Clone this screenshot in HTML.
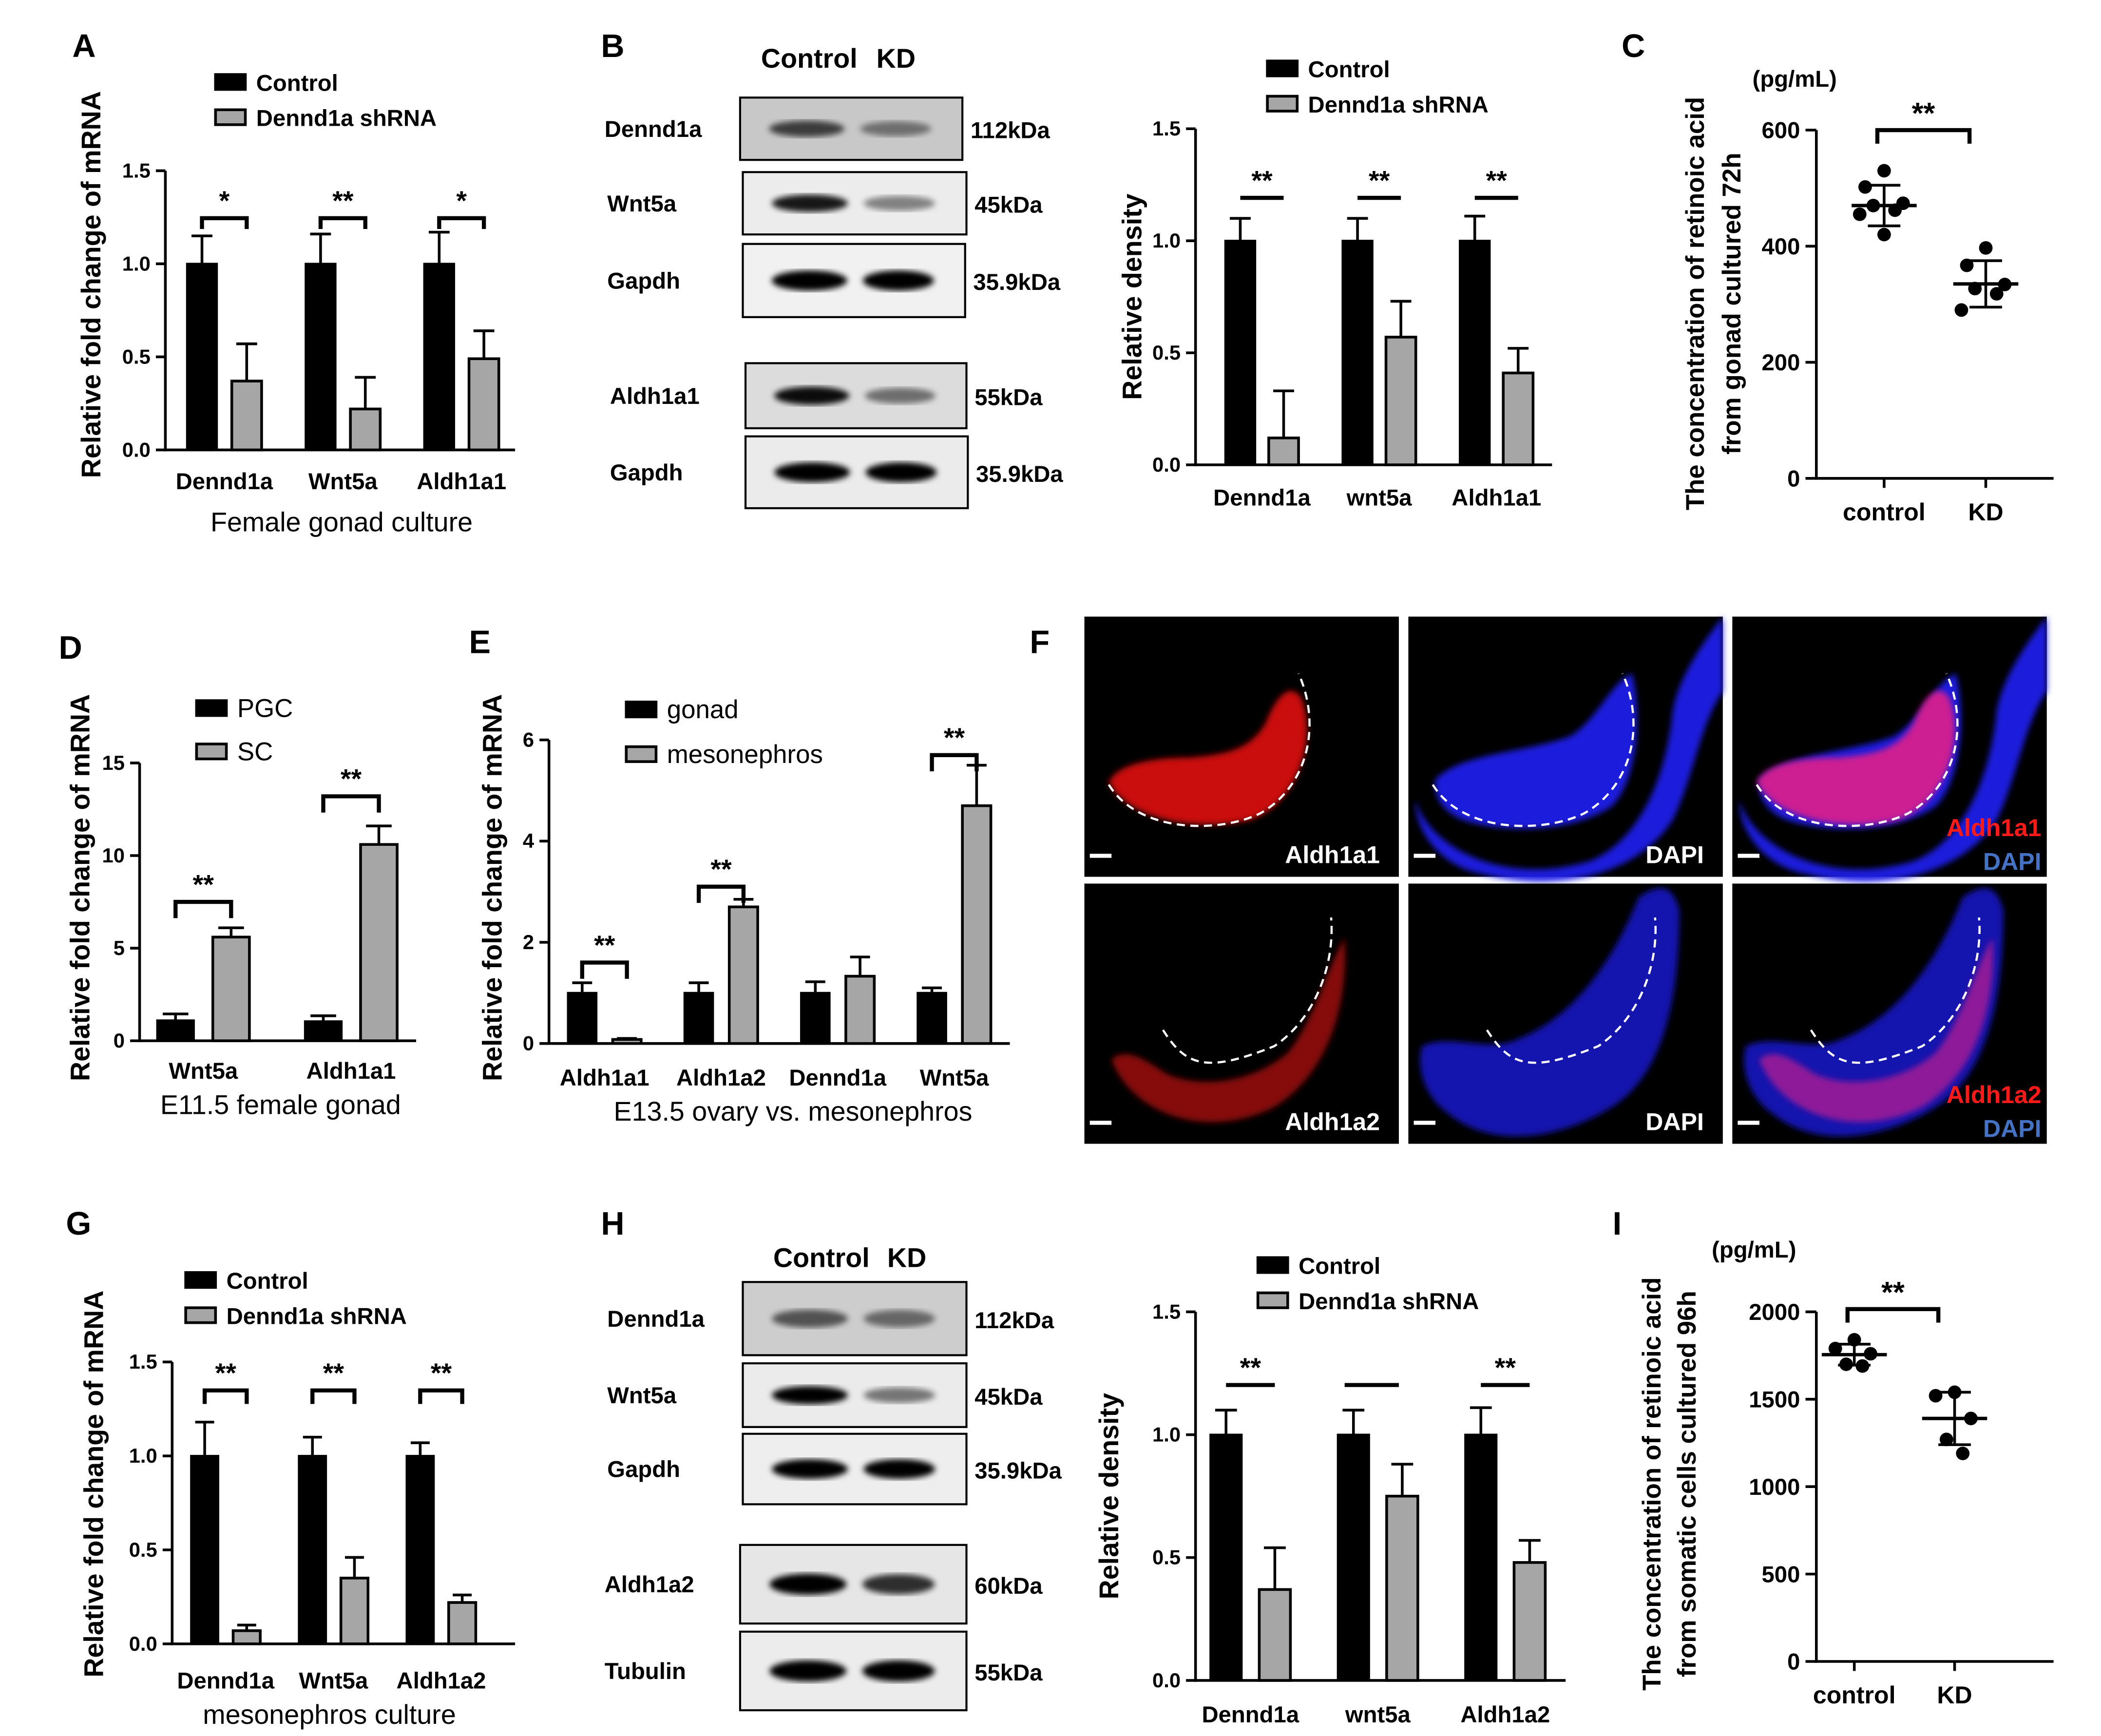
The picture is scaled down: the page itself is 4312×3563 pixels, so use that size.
<!DOCTYPE html>
<html><head><meta charset="utf-8"><style>
html,body{margin:0;padding:0;background:#fff;}
svg{display:block;font-family:"Liberation Sans",sans-serif;}
</style></head><body>
<svg id="fig" xmlns="http://www.w3.org/2000/svg" width="4312" height="3563" viewBox="0 0 1550 1281" preserveAspectRatio="none">
<defs>
<filter id="blur1"><feGaussianBlur stdDeviation="2.2"/></filter>
</defs>
</svg>
<script>
// ---------- data ----------
const catsA = ["Dennd1a","Wnt5a","Aldh1a1"];
const ctrlA = [1.0,1.0,1.0];
const ctrlErrA = [0.15,0.16,0.17];
const shA = [0.37,0.22,0.49];
const shErrA = [0.2,0.17,0.15];
const sigA = ["*","**","*"];
const ticksA = [0,0.5,1.0,1.5];

const catsB = ["Dennd1a","wnt5a","Aldh1a1"];
const ctrlB = [1.0,1.0,1.0];
const ctrlErrB = [0.1,0.1,0.11];
const shB = [0.12,0.57,0.41];
const shErrB = [0.21,0.16,0.11];
const sigB = ["**","**","**"];
const ticksB = [0,0.5,1.0,1.5];

const catsD = ["Wnt5a","Aldh1a1"];
const pgcD = [1.1,1.05];
const pgcErrD = [0.35,0.3];
const scD = [5.6,10.6];
const scErrD = [0.5,1.0];
const sigD = ["**","**"];
const ticksD = [0,5,10,15];

const catsE = ["Aldh1a1","Aldh1a2","Dennd1a","Wnt5a"];
const gonE = [1.0,1.0,1.0,1.0];
const gonErrE = [0.2,0.2,0.22,0.1];
const mesE = [0.08,2.7,1.33,4.7];
const mesErrE = [0.02,0.15,0.38,0.8];
const sigE = ["**","**","","**"];
const ticksE = [0,2,4,6];

const catsG = ["Dennd1a","Wnt5a","Aldh1a2"];
const ctrlG = [1.0,1.0,1.0];
const ctrlErrG = [0.18,0.1,0.07];
const shG = [0.07,0.35,0.22];
const shErrG = [0.03,0.11,0.04];
const sigG = ["**","**","**"];
const ticksG = [0,0.5,1.0,1.5];

const catsH = ["Dennd1a","wnt5a","Aldh1a2"];
const ctrlH = [1.0,1.0,1.0];
const ctrlErrH = [0.1,0.1,0.11];
const shH = [0.37,0.75,0.48];
const shErrH = [0.17,0.13,0.09];
const sigH = ["**","","**"];
const ticksH = [0,0.5,1.0,1.5];

const groupsC = ["control","KD"];
const ptsCctrl = [530,502,474,470,462,455,420];
const ptsCkd = [397,367,334,327,318,290];
const meanC = [470,335];
const sdC = [35,40];
const ticksC = [0,200,400,600];

const groupsI = ["control","KD"];
const ptsIctrl = [1840,1790,1760,1700,1690];
const ptsIkd = [1540,1520,1390,1270,1190];
const meanI = [1755,1390];
const sdI = [60,150];
const ticksI = [0,500,1000,1500,2000];

// ---------- helpers ----------
const NS = "http://www.w3.org/2000/svg";
const svg = document.getElementById("fig");
function mk(parent, tag, attrs, name, txt){
  const el = document.createElementNS(NS, tag);
  for (const k in attrs) el.setAttribute(k, attrs[k]);
  
  
  if (txt !== undefined) el.textContent = txt;
  parent.appendChild(el);
  return el;
}
function grp(name){ return mk(svg,"g",{},name); }
function text(p,x,y,s,size,opts,name){
  opts = opts||{};
  return mk(p,"text",Object.assign({x:x,y:y,"font-size":size,"font-weight":opts.w||"bold","text-anchor":opts.a||"middle",fill:opts.f||"#000"},opts.extra||{}),name,s);
}
function line(p,x1,y1,x2,y2,w,name){ return mk(p,"line",{x1:x1,y1:y1,x2:x2,y2:y2,stroke:"#000","stroke-width":w||2},name); }

[["A",62,42],["B",452,42],["C",1205,42],["D",52,486],["E",354,482],["F",767,482],["G",58,911],["H",452,911],["I",1193,911]].forEach(l=>{
  const g = grp("panel-label-"+l[0].toLowerCase());
  text(g,l[1],l[2],l[0],24,{},"panel-letter");
});

// ---------- bar chart ----------
function barChart(c){
  const g = grp(c.name);
  const max = c.ticks[c.ticks.length-1];
  const yS = v => c.y0 - (v/max)*(c.y0-c.yTop);
  line(g,c.x0,c.yTop,c.x0,c.y0+1,2,"y-axis");
  line(g,c.x0-1,c.y0,c.xEnd,c.y0,2,"x-axis");
  c.ticks.forEach(t=>{
    const y = yS(t);
    line(g,c.x0-7,y,c.x0,y,2,"y-tick");
    text(g,c.x0-11,y+5,c.tickFmt(t),c.tickSize||15,{a:"end"},"y-tick-label");
  });
  c.cats.forEach((cat,i)=>{
    const bx = c.first + i*c.step;
    const gx = bx + c.off;
    const v1 = c.s1[i], v2 = c.s2[i];
    const e1 = c.e1[i], e2 = c.e2[i];
    line(g,bx+c.bw/2,yS(v1),bx+c.bw/2,yS(v1+e1),2,"error-bar");
    line(g,bx+c.bw/2-c.bw*0.35,yS(v1+e1),bx+c.bw/2+c.bw*0.35,yS(v1+e1),2,"error-cap");
    mk(g,"rect",{x:bx,y:yS(v1),width:c.bw,height:c.y0-yS(v1),fill:"#000",stroke:"#000","stroke-width":1.5},"bar-"+c.s1name+"-"+cat.toLowerCase());
    line(g,gx+c.bw/2,yS(v2),gx+c.bw/2,yS(v2+e2),2,"error-bar");
    line(g,gx+c.bw/2-c.bw*0.35,yS(v2+e2),gx+c.bw/2+c.bw*0.35,yS(v2+e2),2,"error-cap");
    mk(g,"rect",{x:gx,y:yS(v2),width:c.bw,height:c.y0-yS(v2),fill:"#a6a6a6",stroke:"#000","stroke-width":2},"bar-"+c.s2name+"-"+cat.toLowerCase());
    text(g,(bx+gx+c.bw)/2,c.labY,cat,c.catSize||17,{},"x-category-label");
    if (c.sig[i] && !c.noSig){
      const by = c.sigY;
      const bx1 = bx+c.bw/2, bx2 = gx+c.bw/2;
      mk(g,"polyline",{points: c.drop ? `${bx1},${by+c.drop} ${bx1},${by} ${bx2},${by} ${bx2},${by+c.drop}` : `${bx1},${by} ${bx2},${by}`,fill:"none",stroke:"#000","stroke-width":3},"significance-bracket");
      text(g,(bx1+bx2)/2,by-6,c.sig[i],20,{},"significance-stars");
    }
  });
  const cy = c.titleY!==undefined ? c.titleY : (c.y0+c.yTop)/2;
  text(g,c.titleX,cy,c.ytitle,c.titleSize||20,{extra:{transform:`rotate(-90 ${c.titleX} ${cy})`}},"y-axis-title");
  if (c.xtitle) text(g,c.xtitleX,c.xtitleY,c.xtitle,20,{w:"normal"},"x-axis-title");
  c.legend.forEach((L,j)=>{
    mk(g,"rect",{x:L[0],y:L[1]-6,width:22,height:11,fill:j?"#a6a6a6":"#000",stroke:"#000","stroke-width":2},"legend-swatch");
    text(g,L[0]+30,L[1]+6,L[2],c.legSize||17,{a:"start",w:c.legW||"bold"},"legend-entry");
  });
}
const f1 = t=>t.toFixed(1), f0 = t=>String(t);

barChart({name:"chart-a",x0:122,y0:332,yTop:126,xEnd:380,ticks:ticksA,tickFmt:f1,cats:catsA,s1:ctrlA,e1:ctrlErrA,s2:shA,e2:shErrA,sig:sigA,s1name:"control",s2name:"shrna",
  first:138,step:87.5,bw:22,off:33,labY:361,sigY:161,drop:8,titleX:74,titleY:210,ytitle:"Relative fold change of mRNA",xtitle:"Female gonad culture",xtitleX:252,xtitleY:392,
  legend:[[159,61,"Control"],[159,87,"Dennd1a shRNA"]]});
barChart({name:"chart-b",x0:882,y0:343,yTop:95,xEnd:1145,ticks:ticksB,tickFmt:f1,cats:catsB,s1:ctrlB,e1:ctrlErrB,s2:shB,e2:shErrB,sig:sigB,s1name:"control",s2name:"shrna",
  first:904,step:86.5,bw:22,off:32,labY:373,sigY:146,drop:0,titleX:842,ytitle:"Relative density",
  legend:[[935,51,"Control"],[935,77,"Dennd1a shRNA"]]});
barChart({name:"chart-d",x0:103,y0:768,yTop:563,xEnd:307,ticks:ticksD,tickFmt:f0,cats:catsD,s1:pgcD,e1:pgcErrD,s2:scD,e2:scErrD,sig:sigD,s1name:"pgc",s2name:"sc",noSig:true,
  first:116,step:109,bw:27,off:41,labY:796,sigY:0,drop:12,titleX:66,titleY:655,ytitle:"Relative fold change of mRNA",xtitle:"E11.5 female gonad",xtitleX:207,xtitleY:822,
  legend:[[145,523,"PGC"],[145,555,"SC"]],legW:"normal",legSize:19});
barChart({name:"chart-e",x0:405,y0:770,yTop:546,xEnd:745,ticks:ticksE,tickFmt:f0,cats:catsE,s1:gonE,e1:gonErrE,s2:mesE,e2:mesErrE,sig:sigE,s1name:"gonad",s2name:"mesonephros",noSig:true,
  first:419,step:86,bw:21,off:33,labY:801,sigY:0,drop:12,titleX:370,titleY:655,ytitle:"Relative fold change of mRNA",xtitle:"E13.5 ovary vs. mesonephros",xtitleX:585,xtitleY:827,
  legend:[[462,524,"gonad"],[462,557,"mesonephros"]],legW:"normal",legSize:19});
barChart({name:"chart-g",x0:127,y0:1213,yTop:1005,xEnd:380,ticks:ticksG,tickFmt:f1,cats:catsG,s1:ctrlG,e1:ctrlErrG,s2:shG,e2:shErrG,sig:sigG,s1name:"control",s2name:"shrna",
  first:141,step:79.5,bw:20,off:31,labY:1246,sigY:1026,drop:10,titleX:76,titleY:1095,ytitle:"Relative fold change of mRNA",xtitle:"mesonephros culture",xtitleX:243,xtitleY:1272,
  legend:[[137,945,"Control"],[137,971,"Dennd1a shRNA"]]});
barChart({name:"chart-h",x0:882,y0:1240,yTop:968,xEnd:1155,ticks:ticksH,tickFmt:f1,cats:catsH,s1:ctrlH,e1:ctrlErrH,s2:shH,e2:shErrH,sig:sigH,s1name:"control",s2name:"shrna",
  first:893,step:94,bw:23,off:36,labY:1271,sigY:1022,drop:0,titleX:825,ytitle:"Relative density",
  legend:[[928,934,"Control"],[928,960,"Dennd1a shRNA"]]});
(function(){
  const g = grp("chart-e-significance");
  const yS = v => 770 - v/6*224;
  const tops = [1.6,3.1,0,5.7];
  sigE.forEach((s,i)=>{
    if(!s) return;
    const bx1 = 419+i*86+10.5, bx2 = bx1+33;
    const by = yS(tops[i]);
    mk(g,"polyline",{points:`${bx1},${by+12} ${bx1},${by} ${bx2},${by} ${bx2},${by+12}`,fill:"none",stroke:"#000","stroke-width":3},"significance-bracket");
    text(g,(bx1+bx2)/2,by-6,s,20,{},"significance-stars");
  });
})();
(function(){
  const g = grp("chart-d-significance");
  const yS = v => 768 - v/15*205;
  const tops = [7.5,13.2];
  sigD.forEach((s,i)=>{
    const bx1 = 116+i*109+13.5, bx2 = bx1+41;
    const by = yS(tops[i]);
    mk(g,"polyline",{points:`${bx1},${by+12} ${bx1},${by} ${bx2},${by} ${bx2},${by+12}`,fill:"none",stroke:"#000","stroke-width":3},"significance-bracket");
    text(g,(bx1+bx2)/2,by-6,s,20,{},"significance-stars");
  });
})();
(function(){
  const g = grp("chart-h-extra");
  line(g,992,1022,1032,1022,3,"significance-bracket");
})();

// ---------- scatter ----------
function scatter(c){
  const g = grp(c.name);
  const max = c.ticks[c.ticks.length-1];
  const yS = v => c.y0 - v/max*(c.y0-c.yTop);
  line(g,c.x0,c.yTop,c.x0,c.y0+1,2,"y-axis");
  line(g,c.x0-1,c.y0,c.xEnd,c.y0,2,"x-axis");
  c.ticks.forEach(t=>{ const y=yS(t); line(g,c.x0-8,y,c.x0,y,2,"y-tick"); text(g,c.x0-12,y+6,String(t),17,{a:"end"},"y-tick-label"); });
  [c.p1,c.p2].forEach((pts,k)=>{
    const cx = c.xs[k];
    line(g,cx,c.y0,cx,c.y0+7,2,"x-tick");
    text(g,cx,c.y0+31,c.groups[k],18,{},"x-category-label");
    const m = c.mean[k], s = c.sd[k];
    line(g,cx-24,yS(m),cx+24,yS(m),2.5,"mean-line");
    line(g,cx,yS(m-s),cx,yS(m+s),2,"sd-line");
    line(g,cx-12,yS(m+s),cx+12,yS(m+s),2,"sd-cap");
    line(g,cx-12,yS(m-s),cx+12,yS(m-s),2,"sd-cap");
    pts.forEach((v,j)=>{
      const off = c.offs[j%c.offs.length];
      mk(g,"circle",{cx:cx+off,cy:yS(v),r:5,fill:"#000"},"data-point");
    });
  });
  const b1=c.xs[0]-5, b2=c.xs[1]-12;
  mk(g,"polyline",{points:`${b1},${c.bY+10} ${b1},${c.bY} ${b2},${c.bY} ${b2},${c.bY+10}`,fill:"none",stroke:"#000","stroke-width":3},"significance-bracket");
  text(g,(b1+b2)/2,c.bY-5,"**",22,{},"significance-stars");
  text(g,c.unitX,c.unitY,"(pg/mL)",17,{},"unit-label");
  c.titles.forEach((t,k)=>{
    const tx = c.tX[k], ty = c.tY;
    text(g,tx,ty,t,19,{extra:{transform:`rotate(-90 ${tx} ${ty})`}},"y-axis-title");
  });
}
scatter({name:"chart-c",x0:1340,y0:353,yTop:96,xEnd:1515,ticks:ticksC,groups:groupsC,p1:ptsCctrl,p2:ptsCkd,mean:meanC,sd:sdC,xs:[1390,1465],
  offs:[0,-14,14,-8,8,-18,0],bY:96,unitX:1324,unitY:64,titles:["The concentration of retinoic acid","from gonad cultured 72h"],tX:[1257,1284],tY:224});
scatter({name:"chart-i",x0:1340,y0:1226,yTop:968,xEnd:1515,ticks:ticksI,groups:groupsI,p1:ptsIctrl,p2:ptsIkd,mean:meanI,sd:sdI,xs:[1368,1442],
  offs:[0,-14,12,-6,6],bY:966,unitX:1294,unitY:928,titles:["The concentration of retinoic acid","from somatic cells cultured 96h"],tX:[1225,1251],tY:1095});

// ---------- western blots ----------
function blot(gName, rows, header){
  const g = grp(gName);
  text(g,header[0],header[1],"Control",20,{},"lane-header-control");
  text(g,header[2],header[1],"KD",20,{},"lane-header-kd");
  rows.forEach(r=>{
    const [name,x1,y1,x2,y2,kda,i1,i2,bg] = r;
    const w=x2-x1,h=y2-y1, cy=(y1+y2)/2;
    mk(g,"rect",{x:x1,y:y1,width:w,height:h,fill:bg},"blot-background");
    mk(g,"ellipse",{cx:x1+w*0.3,cy:cy,rx:w*0.17,ry:h*0.1+2*i1,fill:"#000","fill-opacity":Math.min(1,i1),filter:"url(#blur1)"},"band-control");
    mk(g,"ellipse",{cx:x1+w*0.7,cy:cy,rx:w*0.16,ry:h*0.1+2*i2,fill:"#000","fill-opacity":Math.min(1,i2),filter:"url(#blur1)"},"band-kd");
    mk(g,"rect",{x:x1,y:y1,width:w,height:h,fill:"none",stroke:"#000","stroke-width":1.5},"blot-frame");
    text(g,x1-12,cy+6,name,17,{a:"start",extra:{x:x1-100}},"protein-label");
    text(g,x2+6,cy+7,kda,17,{a:"start"},"kda-label");
  });
}
blot("western-blot-b",[
  ["Dennd1a",546,72,710,118,"112kDa",0.7,0.45,"#c8c8c8"],
  ["Wnt5a",548,127,713,173,"45kDa",0.9,0.45,"#ececec"],
  ["Gapdh",548,180,712,234,"35.9kDa",1,1,"#f1f1f1"],
  ["Aldh1a1",550,268,713,316,"55kDa",0.95,0.5,"#dcdcdc"],
  ["Gapdh",550,322,714,375,"35.9kDa",1,1,"#ebebeb"]],[597,50,661]);
blot("western-blot-h",[
  ["Dennd1a",548,946,713,1000,"112kDa",0.6,0.5,"#cdcdcd"],
  ["Wnt5a",548,1006,713,1053,"45kDa",1,0.5,"#ebebeb"],
  ["Gapdh",548,1058,713,1110,"35.9kDa",1,1,"#eeeeee"],
  ["Aldh1a2",546,1140,713,1198,"60kDa",1,0.8,"#e6e6e6"],
  ["Tubulin",546,1204,713,1262,"55kDa",1,1,"#ececec"]],[606,935,669]);

// ---------- immunofluorescence panel F ----------
(function(){
  const g = grp("immunofluorescence-f");
  const cols=[800,1039,1278], rows=[455,652], W=232, H=192;
  const topShape="M18,122 C30,148 80,160 122,150 C158,138 172,90 160,60 C152,48 142,58 134,78 C122,100 100,102 78,104 C52,104 25,108 18,122 Z";
  const topBlue="M5,135 C15,170 70,200 135,180 C170,165 190,120 195,70 C200,40 225,10 232,0 L232,55 C215,80 210,120 195,150 C170,190 110,205 55,190 C25,185 5,160 5,135 Z M20,120 C40,100 90,100 120,88 C140,75 150,48 165,42 C172,70 170,120 150,140 C120,160 70,160 40,150 C28,145 18,135 20,120 Z";
  const botShape="M20,130 C35,170 90,190 140,165 C180,140 195,90 192,40 C180,60 170,100 150,125 C120,150 80,150 60,140 C45,130 30,120 20,130 Z";
  const botBlue="M10,120 C30,110 60,125 80,115 C120,100 150,60 170,10 C185,0 195,0 200,20 C200,80 190,140 150,165 C110,190 60,195 30,170 C15,160 5,140 10,120 Z";
  const labels=[["Aldh1a1"],["Aldh1a2"]];
  rows.forEach((ry,ri)=>{
    cols.forEach((cx,ci)=>{
      const sub = mk(g,"g",{transform:`translate(${cx},${ry})`},"micrograph");
      mk(sub,"rect",{x:0,y:0,width:W,height:H,fill:"#000"},"image-background");
      const red = ri===0?topShape:botShape, blue = ri===0?topBlue:botBlue;
      if (ci>0) mk(sub,"path",{d:blue,fill:"#1a1ee8","fill-opacity":ri===0?0.95:0.75,filter:"url(#blur1)"},"dapi-signal");
      if (ci!==1) mk(sub,"path",{d:red,fill:ci===0?"#e01010":"#e0208a","fill-opacity":ri===0?0.9:0.6,filter:"url(#blur1)"},"red-signal");
      const dash = ri===0?"M18,124 C40,160 100,160 130,145 C165,125 175,80 158,42":"M58,108 C75,135 90,140 140,120 C170,100 185,60 182,25";
      mk(sub,"path",{d:dash,fill:"none",stroke:"#fff","stroke-width":1.6,"stroke-dasharray":"6,4"},"boundary-dashed-line");
      mk(sub,"rect",{x:4,y:H-17,width:16,height:3,fill:"#fff"},"scale-bar");
      if (ci<2) text(sub,W-14,H-10,ci===0?labels[ri][0]:"DAPI",18,{a:"end",f:"#fff"},"channel-label");
      else { text(sub,W-4,H-30,labels[ri][0],18,{a:"end",f:"#ff1a1a"},"channel-label-red"); text(sub,W-4,H-5,"DAPI",18,{a:"end",f:"#4472c4"},"channel-label-blue"); }
    });
  });
})();
</script>
</body></html>
